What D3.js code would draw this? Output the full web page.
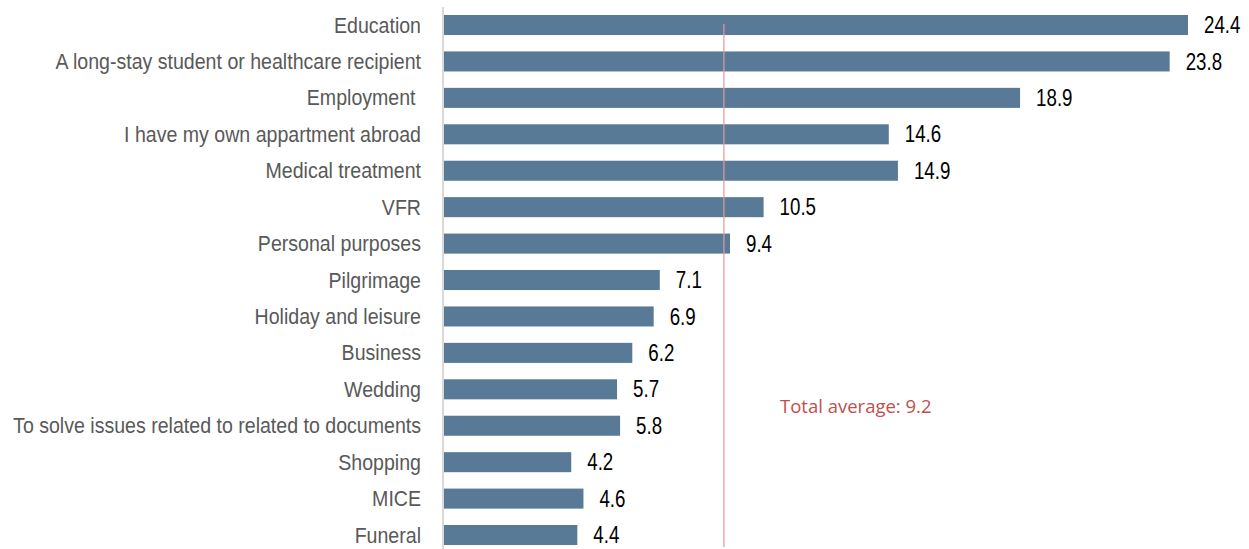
<!DOCTYPE html>
<html>
<head>
<meta charset="utf-8">
<script src="https://cdn.jsdelivr.net/npm/d3@7"></script>
<style>
  body { margin: 0; background: #fff; }
  .cat { font-family: "Liberation Sans", Arial, sans-serif; font-size: 22px; fill: #595959; }
  .val { font-family: "Liberation Sans", Arial, sans-serif; font-size: 24px; fill: #000; }
  .avg-label { font-family: "Open Sans", "Noto Sans", sans-serif; font-size: 18.5px; fill: #c0504d; }
</style>
</head>
<body>
<svg id="chart"></svg>
<script>
// chart data
const categories = [
  'Education',
  'A long-stay student or healthcare recipient',
  'Employment ',
  'I have my own appartment abroad',
  'Medical treatment',
  'VFR',
  'Personal purposes',
  'Pilgrimage',
  'Holiday and leisure',
  'Business',
  'Wedding',
  'To solve issues related to related to documents',
  'Shopping',
  'MICE',
  'Funeral'
];
const values = [24.4, 23.8, 18.9, 14.6, 14.9, 10.5, 9.4, 7.1, 6.9, 6.2, 5.7, 5.8, 4.2, 4.6, 4.4];
const totalAverage = 9.2;
const averageLabel = 'Total average: 9.2';

const width = 1249, height = 549;
const margin = {left: 443};
// labels in the original are set in a condensed face
const squeeze = 0.89;

const svg = d3.select('#chart')
  .attr('width', width)
  .attr('height', height);

const x = d3.scaleLinear()
  .domain([0, 24.4])
  .range([margin.left, 1188]);

const y = d3.scaleBand()
  .domain(categories)
  .range([6.8, 6.8 + 36.43 * 15])
  .paddingInner(0.45)
  .paddingOuter(0.225);

const data = categories.map((c, i) => ({cat: c, value: values[i]}));

// bars
svg.append('g')
  .selectAll('rect')
  .data(data)
  .join('rect')
  .attr('x', x(0))
  .attr('y', d => y(d.cat))
  .attr('width', d => x(d.value) - x(0))
  .attr('height', y.bandwidth())
  .attr('fill', '#587a97');

// value labels
svg.append('g')
  .selectAll('text')
  .data(data)
  .join('text')
  .attr('class', 'val')
  .attr('transform', d => `translate(${x(d.value) + 16},${y(d.cat) + y.bandwidth() / 2}) scale(0.78,1)`)
  .attr('dy', '0.34em')
  .text(d => d.value.toFixed(1));

// category axis
const yAxis = d3.axisLeft(y).tickSize(0).tickPadding(0);
const yAxisG = svg.append('g')
  .attr('transform', `translate(${margin.left},0)`)
  .call(yAxis);
yAxisG.select('.domain').remove();
yAxisG.attr('font-size', null).attr('font-family', null);
yAxisG.selectAll('text')
  .attr('class', 'cat')
  .attr('x', 0)
  .attr('dy', '0.34em')
  .attr('transform', `translate(-22,0) scale(${squeeze},1)`)
  .style('white-space', 'pre');

svg.append('line')
  .attr('x1', margin.left).attr('x2', margin.left)
  .attr('y1', 7).attr('y2', height)
  .attr('stroke', '#d9d9d9')
  .attr('stroke-width', 2);

// average line
svg.append('line')
  .attr('x1', x(totalAverage)).attr('x2', x(totalAverage))
  .attr('y1', 24).attr('y2', 547)
  .attr('stroke', '#e39a9a')
  .attr('stroke-width', 1.2);

svg.append('text')
  .attr('class', 'avg-label')
  .attr('x', 780)
  .attr('y', 413)
  .text(averageLabel);
</script>
</body>
</html>
